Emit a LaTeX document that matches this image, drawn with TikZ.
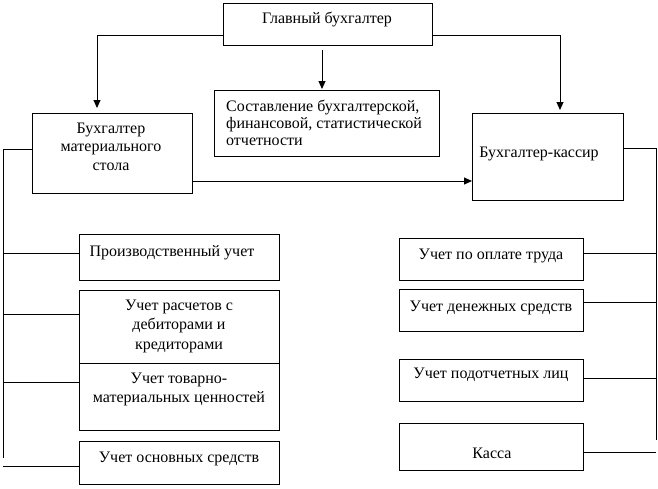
\documentclass[tikz,border=0pt]{standalone}
\usepackage{fontspec}
\setmainfont{Liberation Serif}
\usetikzlibrary{arrows.meta,calc}
\begin{document}
\begin{tikzpicture}[x=1pt,y=-1pt,
  box/.style={draw,line width=1pt,rectangle,inner sep=0pt,anchor=north west},
  txt/.style={anchor=base,inner sep=0pt,font=\fontsize{16}{18}\selectfont},
  ltxt/.style={anchor=base west,inner sep=0pt,font=\fontsize{16}{18}\selectfont},
  ln/.style={line width=1pt},
  arr/.style={line width=1pt,-{Triangle[width=7pt,length=8pt]}}]
\fill[white] (0,0) rectangle (658,488);
\useasboundingbox (0,0) rectangle (658,488);
% boxes
\node[box,minimum width=209pt,minimum height=42pt] (gb) at (223,3) {};
\node[box,minimum width=160pt,minimum height=80pt] (bms) at (32,113) {};
\node[box,minimum width=225pt,minimum height=66pt] (sost) at (214,90) {};
\node[box,minimum width=151pt,minimum height=87pt] (bk) at (472,113) {};
\node[box,minimum width=200pt,minimum height=46pt] (p1) at (79,234) {};
\node[box,minimum width=200pt,minimum height=73pt] (p2) at (79,290) {};
\node[box,minimum width=200pt,minimum height=67pt] (p3) at (79,363) {};
\node[box,minimum width=200pt,minimum height=43pt] (p4) at (79,441) {};
\node[box,minimum width=184pt,minimum height=42pt] (r1) at (399,238) {};
\node[box,minimum width=184pt,minimum height=42pt] (r2) at (399,289) {};
\node[box,minimum width=184pt,minimum height=42pt] (r3) at (399,359) {};
\node[box,minimum width=184pt,minimum height=47pt] (r4) at (399,423) {};
% texts
\node[txt] (tgb) at (327,23) {Главный бухгалтер};
\node[txt] (tbms1) at (111,133) {Бухгалтер};
\node[txt] (tbms2) at (111,151) {материального};
\node[txt] (tbms3) at (111,170) {стола};
\node[ltxt] (ts1) at (226,111) {Составление бухгалтерской,};
\node[ltxt] (ts2) at (226,128) {финансовой, статистической};
\node[ltxt] (ts3) at (226,145) {отчетности};
\node[txt] (tbk) at (539,157) {Бухгалтер-кассир};
\node[txt] (tp1) at (172,256) {Производственный учет};
\node[txt] (tp2a) at (179,310) {Учет расчетов с};
\node[txt] (tp2b) at (179,329) {дебиторами и};
\node[txt] (tp2c) at (179,349) {кредиторами};
\node[txt] (tp3a) at (179,383) {Учет товарно-};
\node[txt] (tp3b) at (179,402) {материальных ценностей};
\node[txt] (tp4) at (179,462) {Учет основных средств};
\node[txt] (tr1) at (491,259) {Учет по оплате труда};
\node[txt] (tr2) at (491,311) {Учет денежных средств};
\node[txt] (tr3) at (491,378) {Учет подотчетных лиц};
\node[txt] (tr4) at (492,458) {Касса};
% arrows from the chief accountant
\draw[arr] ([yshift=-32pt]gb.north west) -| ([xshift=65pt,yshift=5pt]bms.north west);
\draw[arr] ([xshift=99pt,yshift=-4pt]gb.south west) -- ([xshift=108pt,yshift=1pt]sost.north west);
\draw[arr] ([yshift=-32pt]gb.north east) -| ([xshift=88pt,yshift=3pt]bk.north west);
\coordinate (h) at ([yshift=-68pt]bms.north east);
\draw[arr] (h) -- (h -| bk.west);
% left bus
\coordinate (lbend) at (3,458);
\draw[ln] ([yshift=-36pt]bms.north west) -| (lbend);
\coordinate (l1) at ([yshift=-19pt]p1.north west);
\coordinate (l2) at ([yshift=-24pt]p2.north west);
\coordinate (l3) at ([yshift=-19pt]p3.north west);
\coordinate (l4) at ([yshift=-25pt]p4.north west);
\foreach \c in {l1,l2,l3,l4} \draw[ln] (\c) -- (\c -| lbend);
% right bus
\coordinate (rbend) at (656,440);
\draw[ln] ([yshift=-35pt]bk.north east) -| (rbend);
\coordinate (r1c) at ([yshift=-15pt]r1.north east);
\coordinate (r2c) at ([yshift=-13pt]r2.north east);
\coordinate (r3c) at ([yshift=-19pt]r3.north east);
\coordinate (r4c) at ([yshift=-29pt]r4.north east);
\foreach \c in {r1c,r2c,r3c,r4c} \draw[ln] (\c) -- (\c -| rbend);
\end{tikzpicture}
\end{document}
